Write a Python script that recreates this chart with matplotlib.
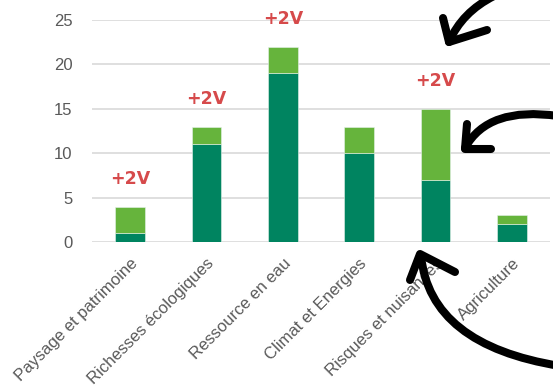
import numpy as np
import matplotlib.pyplot as plt
from matplotlib.path import Path
from matplotlib.patches import PathPatch

plt.rcParams['font.family'] = ['Liberation Sans', 'DejaVu Sans']

categories = ['Paysage et patrimoine', 'Richesses écologiques', 'Ressource en eau',
              'Climat et Energies', 'Risques et nuisances', 'Agriculture']
base = [1, 11, 19, 10, 7, 2]
added = [3, 2, 3, 3, 8, 1]
bonus = ['+2V', '+2V', '+2V', '', '+2V', '']

dark = '#008460'
light = '#66b43c'
grey = '#595959'

fig = plt.figure(figsize=(5.53, 3.86), dpi=100)
ax = fig.add_axes([0.1664, 0.373, 0.8282, 0.575])

x = np.arange(len(categories))
ax.bar(x, base, width=0.39, color=dark, edgecolor='#e6f2ec', linewidth=0.4, zorder=3)
ax.bar(x, added, bottom=base, width=0.39, color=light, edgecolor='#e6f2ec',
       linewidth=0.4, zorder=3)

totals = np.array(base) + np.array(added)
for xi, t, b in zip(x, totals, bonus):
    if b:
        ax.text(xi, t + 3.1, b, ha='center', va='center', color='#d64a4b',
                fontsize=12.5, fontweight='bold', family='DejaVu Sans',
                clip_on=False)

ax.set_xlim(-0.5, len(categories) - 0.5)
ax.set_ylim(0, 25)
ax.set_yticks(range(0, 26, 5))
ax.yaxis.grid(True, color='#d9d9d9', linewidth=1.2, zorder=0)
ax.set_axisbelow(True)
for s in ax.spines.values():
    s.set_visible(False)
ax.tick_params(length=0, colors=grey, labelsize=12)
ax.tick_params(axis='y', pad=14)
ax.set_xticks(x)
ax.set_xticklabels(categories, rotation=45, ha='right', rotation_mode='anchor')
ax.tick_params(axis='x', pad=10)


# hand-drawn arrows, in figure pixels (origin top-left)
def px(pts):
    return [(px_ / 553, 1 - py / 386) for px_, py in pts]


def stroke(pts, codes):
    p = Path(px(pts), codes)
    fig.add_artist(PathPatch(p, transform=fig.transFigure, fill=False,
                             edgecolor='black', linewidth=5.8,
                             capstyle='round', joinstyle='round'))


C3 = Path.CURVE3
M, L = Path.MOVETO, Path.LINETO

# top arrow
stroke([(494, -4), (462, 12), (449, 42)], [M, C3, C3])
stroke([(443, 18), (449, 42), (487, 30)], [M, L, L])
# middle arrow
stroke([(558, 116), (488, 106), (465, 148)], [M, C3, C3])
stroke([(467, 124), (465, 149), (491, 149)], [M, L, L])
# bottom arrow
stroke([(560, 366), (430, 345), (421, 256)], [M, C3, C3])
stroke([(410, 280), (420, 254), (455, 272)], [M, L, L])

fig.savefig('out.png', dpi=100)
